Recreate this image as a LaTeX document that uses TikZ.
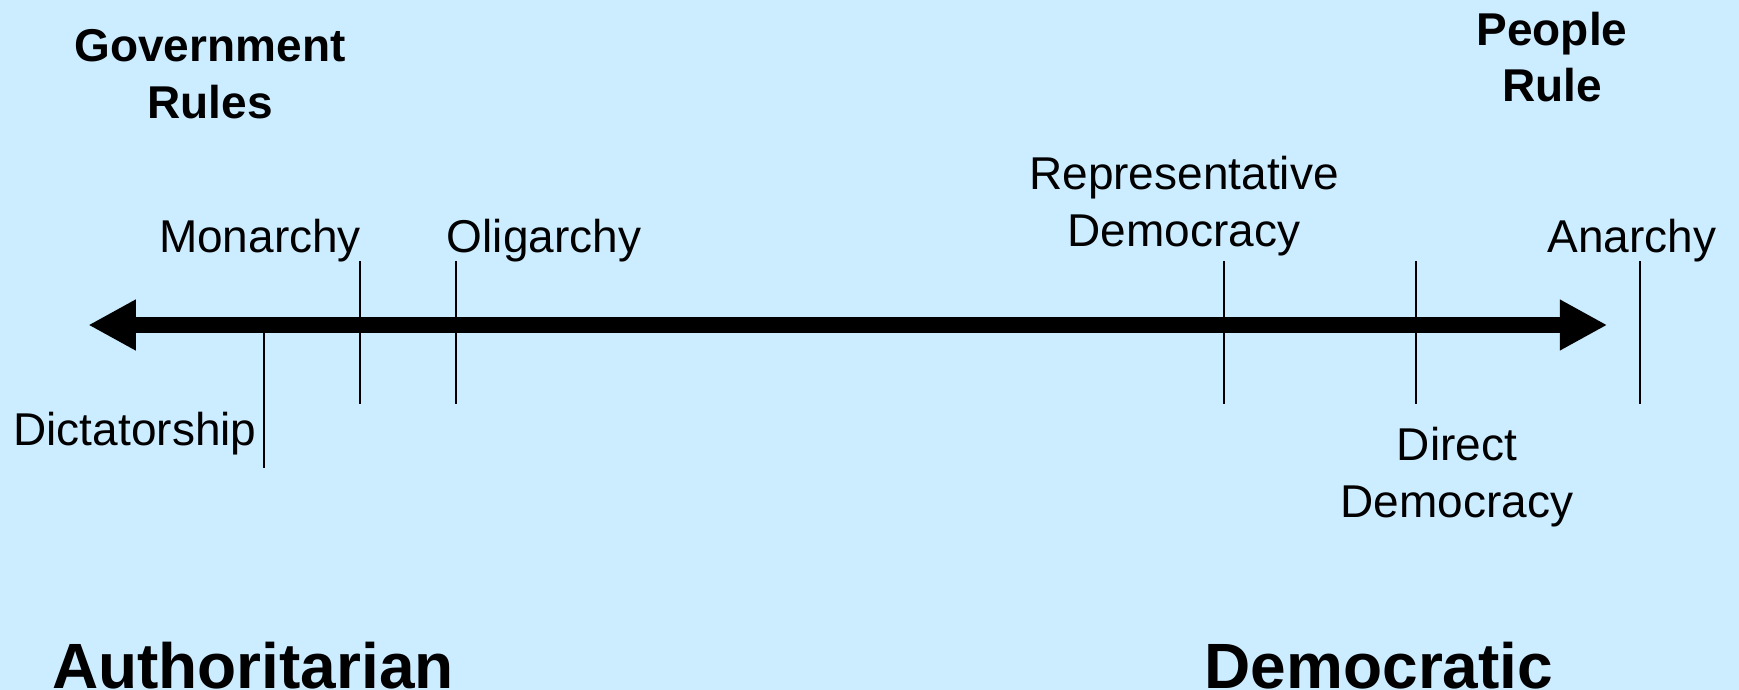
\documentclass[tikz,border=0pt]{standalone}
\usepackage{fontspec}
\setmainfont{Liberation Sans}
\usetikzlibrary{arrows.meta}
\definecolor{slidebg}{RGB}{204,236,255}
\begin{document}
\begin{tikzpicture}[x=1pt,y=-1pt,
  termtext/.style={inner sep=0pt, anchor=base, align=center,
    font=\fontsize{46}{57}\selectfont},
  heading/.style={termtext, font=\fontsize{46}{56.6}\selectfont\bfseries},
  pole/.style={inner sep=0pt, anchor=base,
    font=\fontsize{64}{77}\selectfont\bfseries},
  tickline/.style={line width=2pt},
  axis/.style={line width=16pt,
    {Triangle[length=47.5pt,width=47.5pt]}-{Triangle[length=47.5pt,width=47.5pt]}}
]
% slide background
\fill[slidebg] (0,0) rectangle (1739,690);
\useasboundingbox (0,0) rectangle (1739,690);

% the spectrum axis
\coordinate (axisL) at (88.3,325);
\coordinate (axisR) at (1607.3,325);
\draw[axis] (axisL) -- (axisR);

% tick marks (top and bottom end points)
\coordinate (dictT) at (264,333);  \coordinate (dictB) at (264,468);
\coordinate (monT)  at (360,261);  \coordinate (monB)  at (360,404);
\coordinate (oliT)  at (456,261);  \coordinate (oliB)  at (456,404);
\coordinate (repT)  at (1224,261); \coordinate (repB)  at (1224,404);
\coordinate (dirT)  at (1416,261); \coordinate (dirB)  at (1416,404);
\coordinate (anaT)  at (1640,261); \coordinate (anaB)  at (1640,404);
\foreach \t in {dict,mon,oli,rep,dir,ana}
  \draw[tickline] (\t T) -- (\t B);

% headings (base anchor sits on the last line)
\node[heading] (gov) at (210,118.3) {Government\\Rules};
\node[heading] (ppl) at (1552,101.7) {People\\Rule};

% forms of government
\node[termtext] (monarchy) at (260,252.5) {Monarchy};
\node[termtext] (oligarchy) at (544,252.5) {Oligarchy};
\node[termtext] (repdem) at (1184,246) {Representative\\Democracy};
\node[termtext] (anarchy) at (1632,252.5) {Anarchy};
\node[termtext] (dictator) at (135,445) {Dictatorship};
\node[termtext] (dirdem) at (1457,517.9) {Direct\\Democracy};

% the two poles
\node[pole] (auth) at (253,688) {Authoritarian};
\node[pole] (demo) at (1379,688) {Democratic};
\end{tikzpicture}
\end{document}
